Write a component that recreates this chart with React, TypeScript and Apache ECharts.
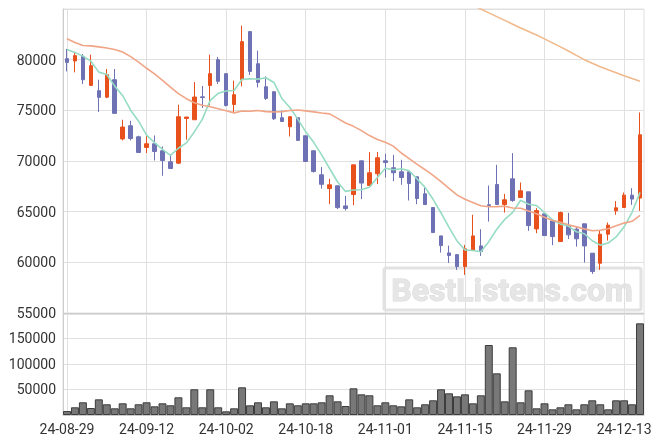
import React, { useEffect, useRef } from "react";
import * as echarts from "echarts";

const dates = [
  "24-08-29", "24-08-30", "24-09-02", "24-09-03", "24-09-04", "24-09-05", "24-09-06", "24-09-09", "24-09-10", "24-09-11",
  "24-09-12", "24-09-13", "24-09-19", "24-09-20", "24-09-23", "24-09-24", "24-09-25", "24-09-26", "24-09-27", "24-09-30",
  "24-10-02", "24-10-04", "24-10-07", "24-10-08", "24-10-10", "24-10-11", "24-10-14", "24-10-15", "24-10-16", "24-10-17",
  "24-10-18", "24-10-21", "24-10-22", "24-10-23", "24-10-24", "24-10-25", "24-10-28", "24-10-29", "24-10-30", "24-10-31",
  "24-11-01", "24-11-04", "24-11-05", "24-11-06", "24-11-07", "24-11-08", "24-11-11", "24-11-12", "24-11-13", "24-11-14",
  "24-11-15", "24-11-18", "24-11-19", "24-11-20", "24-11-21", "24-11-22", "24-11-25", "24-11-26", "24-11-27", "24-11-28",
  "24-11-29", "24-12-02", "24-12-03", "24-12-04", "24-12-05", "24-12-06", "24-12-09", "24-12-10", "24-12-11", "24-12-12",
  "24-12-13", "24-12-16", "24-12-17",
];

const openPrices = [
  80100, 79870, 80330, 77460, 76940, 76300, 78020, 72180, 73480, 72390,
  71340, 71700, 71010, 69920, 69790, 74200, 74070, 76330, 77460, 80000,
  78620, 75580, 78020, 82770, 79600, 77330, 76840, 74270, 73380, 74270,
  72490, 71010, 68640, 67280, 67550, 65570, 66690, 70020, 67580, 68740,
  70020, 69330, 68930, 68930, 68440, 66760, 65410, 62610, 60930, 60760,
  59580, 61160, 61620, 65680, 67680, 65710, 68240, 66400, 66960, 63300,
  64780, 64090, 62050, 63600, 63270, 63800, 60900, 59910, 62780, 65080,
  65410, 66630, 66340,
];
const closePrices = [
  79730, 80400, 78020, 79410, 76280, 78520, 74700, 73350, 72220, 70840,
  71700, 70940, 70050, 69260, 74370, 74340, 76310, 76260, 78620, 77860,
  75480, 76540, 81780, 78840, 77760, 76180, 74170, 73900, 74370, 72030,
  69950, 68960, 67700, 67650, 65400, 65310, 69620, 67820, 68840, 70320,
  69850, 68840, 68370, 67780, 66300, 65700, 62940, 61650, 60670, 59580,
  61330, 62610, 61060, 65610, 65710, 66170, 66100, 67060, 63630, 65110,
  62640, 62540, 64910, 62710, 62320, 61620, 59090, 62780, 63670, 65380,
  66630, 66240, 72590,
];
const lowPrices = [
  78840, 78750, 77600, 77460, 74830, 76200, 74700, 72030, 72030, 70840,
  70780, 70050, 68540, 69260, 69700, 72100, 74070, 75230, 75480, 77600,
  75380, 74830, 77360, 78490, 77260, 76020, 74040, 73900, 72420, 72030,
  69950, 68860, 67280, 65740, 65250, 65110, 65640, 66240, 67580, 67720,
  68370, 68010, 67650, 66100, 65740, 65700, 62940, 60960, 59940, 59250,
  58760, 61160, 60630, 64020, 65710, 64910, 65970, 66400, 63110, 62870,
  62640, 61690, 62050, 62300, 61550, 59980, 58860, 59250, 62150, 64690,
  65410, 65670, 65080,
];
const highPrices = [
  81060, 80660, 80560, 80490, 78020, 79080, 79080, 74070, 73970, 72490,
  72520, 72520, 71430, 70640, 75550, 74340, 77800, 77400, 80490, 80270,
  78620, 77930, 83360, 82770, 80890, 78350, 76840, 74990, 74370, 74270,
  72490, 71010, 69400, 68240, 67550, 66560, 69620, 70020, 70880, 70880,
  70710, 70610, 70120, 68930, 68440, 67350, 65410, 62610, 61650, 60760,
  61720, 64690, 63270, 67580, 69620, 66760, 70780, 67880, 66960, 65350,
  64780, 64090, 65010, 64880, 63500, 63800, 60900, 63200, 63930, 66040,
  66890, 67320, 74790,
];

const ma5 = [
  81000, 80700, 80350, 79850, 78770, 78530, 77390, 76450, 75010, 73930,
  72560, 71810, 71150, 70560, 71260, 71790, 72870, 74110, 75980, 76680,
  76910, 76950, 78060, 78100, 78080, 78220, 77750, 76170, 75280, 74130,
  72880, 71840, 70600, 69260, 67930, 67000, 67140, 67160, 67400, 68380,
  69290, 69130, 69240, 69030, 68230, 67400, 66220, 64870, 63450, 62110,
  61230, 61170, 61050, 62040, 63260, 64230, 64930, 66130, 65730, 65610,
  64910, 64200, 63770, 63580, 63020, 62820, 62130, 61700, 61900, 62510,
  63510, 64940, 66900,
];
const ma20 = [
  82070, 81700, 81400, 81360, 81260, 81150, 81000, 80750, 80300, 79750,
  79150, 78600, 77950, 77300, 76650, 76150, 75750, 75500, 75350, 75160,
  74950, 74750, 74940, 74910, 74990, 74870, 74840, 74870, 74980, 75040,
  74950, 74850, 74730, 74650, 74210, 73750, 73420, 73000, 72510, 72130,
  71850, 71470, 70790, 70240, 69670, 69140, 68580, 67970, 67290, 66660,
  66230, 65910, 65580, 65480, 65500, 65540, 65360, 65330, 65060, 64800,
  64440, 64130, 63960, 63700, 63500, 63300, 63110, 63160, 63310, 63600,
  63870, 64050, 64630,
];
const ma60 = [
  null, null, null, null, null, null, null, null, null, null,
  null, null, null, null, null, null, null, null, null, null,
  null, null, null, null, null, null, null, null, null, null,
  null, null, null, null, null, null, null, null, null, null,
  null, null, null, null, null, null, null, null, null, null,
  null, 85380, 85000, 84620, 84250, 83880, 83500, 83120, 82780, 82430,
  82050, 81660, 81260, 80850, 80420, 80000, 79640, 79300, 79000, 78720,
  78420, 78130, 77860,
];

const volumes = [
  7800, 15100, 24900, 13700, 30700, 21000, 13100, 22900, 13100, 21000,
  24900, 17000, 22900, 19000, 34700, 15100, 50400, 15100, 50400, 15100,
  7200, 13100, 54300, 19000, 24900, 15100, 26800, 13100, 22900, 19000,
  22900, 22900, 24900, 38600, 26800, 17600, 52300, 40500, 38600, 19000,
  24900, 19000, 17000, 30700, 15100, 21000, 28800, 50400, 42500, 36600,
  40500, 22900, 38600, 137200, 81700, 26800, 132700, 24900, 48400, 13100,
  22900, 11100, 15100, 21000, 11100, 21000, 28800, 21000, 11100, 28800,
  28800, 21000, 179700,
];

const priceAxis = { min: 55000, max: 85000, interval: 5000 };
const volumeAxis = { min: 0, max: 198000, interval: 50000 };
const watermark = "BestListens.com";

const UP = "#E8501C";
const DOWN = "#6E72B4";
const GRID_LINE = "#e0e0e0";
const AXIS_LINE = "#cccccc";
const FONT = "Roboto";

export default function App() {
  const ref = useRef<HTMLDivElement>(null);

  useEffect(() => {
    if (!ref.current) return;
    const chart = echarts.init(ref.current, undefined, { renderer: "svg" });
    const candleData = dates.map((_, i) => [openPrices[i], closePrices[i], lowPrices[i], highPrices[i]]);
    const plain = (v: number) => String(v);

    const xCommon = {
      type: "category",
      data: dates,
      boundaryGap: true,
      axisTick: { show: false },
      axisLine: { show: true, lineStyle: { color: AXIS_LINE } },
      splitLine: { show: true, interval: 9, alignWithLabel: true, lineStyle: { color: GRID_LINE } },
    };

    const option = {
      animation: false,
      textStyle: { fontFamily: FONT },
      grid: [
        { left: 63, top: 9, width: 581, height: 304, show: true, borderColor: GRID_LINE, borderWidth: 1 },
        { left: 63, top: 314, width: 581, height: 101, show: true, borderColor: GRID_LINE, borderWidth: 1 },
      ],
      xAxis: [
        { ...xCommon, gridIndex: 0, axisLabel: { show: false } },
        {
          ...xCommon,
          gridIndex: 1,
          axisLabel: { show: true, interval: 9, color: "#333", fontSize: 14, fontFamily: FONT, margin: 7 },
        },
      ],
      yAxis: [
        {
          type: "value",
          gridIndex: 0,
          min: priceAxis.min,
          max: priceAxis.max,
          interval: priceAxis.interval,
          axisLine: { show: true, lineStyle: { color: AXIS_LINE } },
          axisTick: { show: false },
          axisLabel: {
            color: "#333",
            fontSize: 14,
            fontFamily: FONT,
            showMaxLabel: false,
            margin: 7,
            formatter: plain,
          },
          splitLine: { show: true, lineStyle: { color: GRID_LINE } },
        },
        {
          type: "value",
          gridIndex: 1,
          min: volumeAxis.min,
          max: volumeAxis.max,
          interval: volumeAxis.interval,
          axisLine: { show: true, lineStyle: { color: AXIS_LINE } },
          axisTick: { show: false },
          axisLabel: {
            color: "#333",
            fontSize: 14,
            fontFamily: FONT,
            showMaxLabel: false,
            showMinLabel: false,
            margin: 7,
            formatter: plain,
          },
          splitLine: { show: true, lineStyle: { color: GRID_LINE } },
        },
      ],
      graphic: [
        {
          type: "rect",
          z: 0,
          shape: { x: 384, y: 268, width: 257, height: 42, r: 2 },
          style: { fill: "rgba(255,255,255,0)", stroke: "#e2e2e2", lineWidth: 3 },
        },
        {
          type: "text",
          z: 0,
          x: 512,
          y: 290,
          style: {
            text: watermark,
            fill: "#e6e6e6",
            stroke: "#d8d8d8",
            lineWidth: 1,
            font: "bold 32px Roboto",
            align: "center",
            verticalAlign: "middle",
          },
        },
      ],
      series: [
        {
          type: "candlestick",
          xAxisIndex: 0,
          yAxisIndex: 0,
          data: candleData,
          barWidth: 4,
          itemStyle: {
            color: UP,
            color0: DOWN,
            borderColor: UP,
            borderColor0: DOWN,
            borderWidth: 1,
          },
        },
        {
          type: "line",
          name: "MA5",
          xAxisIndex: 0,
          yAxisIndex: 0,
          data: ma5,
          symbol: "none",
          lineStyle: { color: "#96dcc3", width: 1.6 },
        },
        {
          type: "line",
          name: "MA20",
          xAxisIndex: 0,
          yAxisIndex: 0,
          data: ma20,
          symbol: "none",
          lineStyle: { color: "#f0a587", width: 1.6 },
        },
        {
          type: "line",
          name: "MA60",
          xAxisIndex: 0,
          yAxisIndex: 0,
          data: ma60,
          symbol: "none",
          connectNulls: false,
          lineStyle: { color: "#f0b98c", width: 1.6 },
        },
        {
          type: "bar",
          xAxisIndex: 1,
          yAxisIndex: 1,
          data: volumes,
          barCategoryGap: "0%",
          itemStyle: { color: "#787878", borderColor: "#3c3c3c", borderWidth: 1 },
        },
      ],
    };

    chart.setOption(option as any);
    return () => chart.dispose();
  }, []);

  return (
    <div
      ref={ref}
      style={{ position: "fixed", left: 0, top: 0, width: 663, height: 444 }}
    />
  );
}
